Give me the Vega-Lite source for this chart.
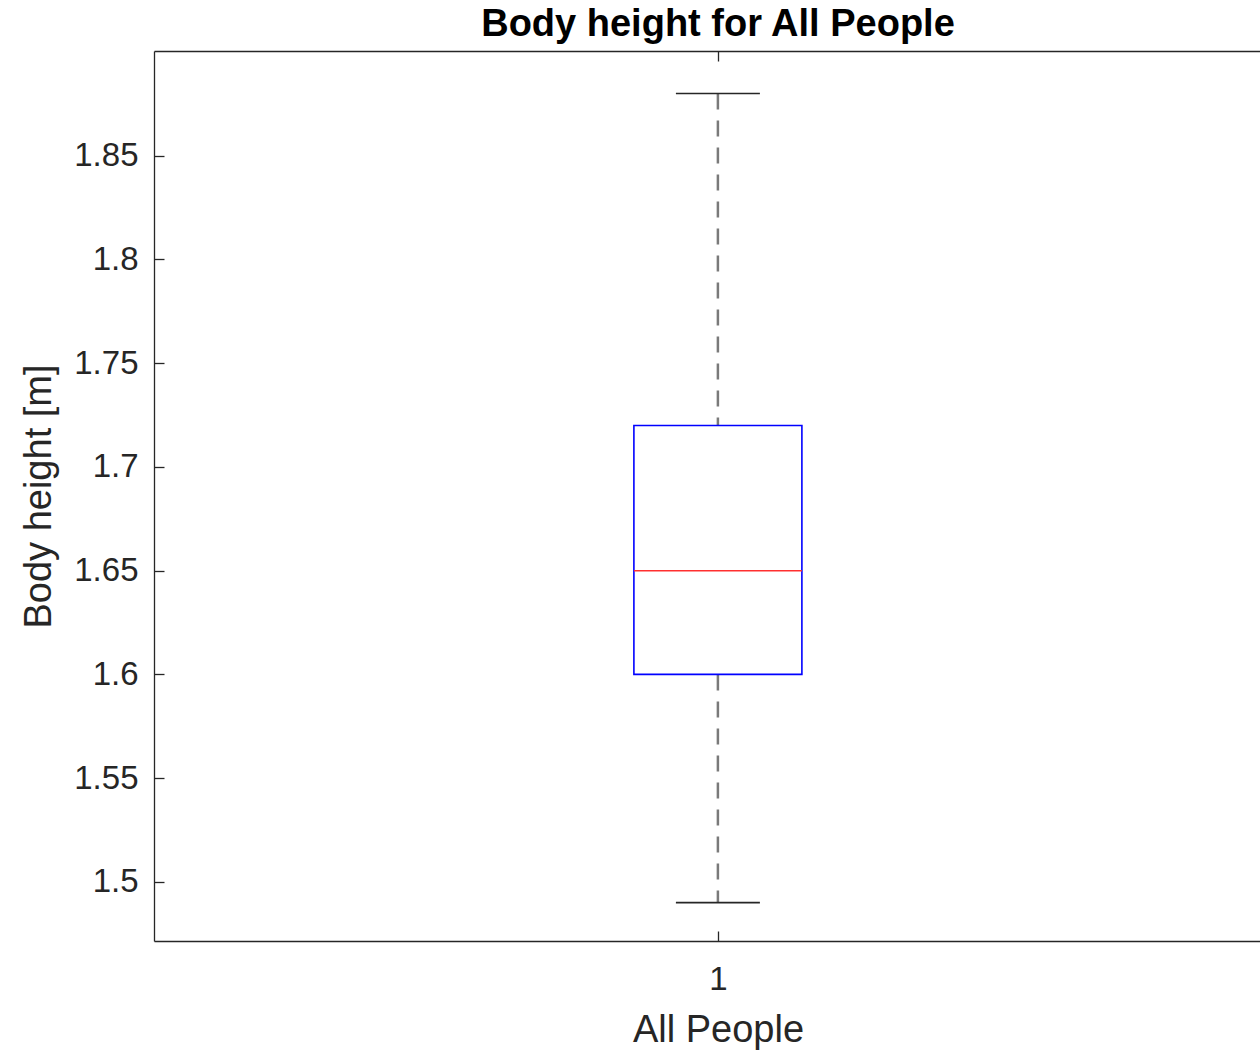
{
  "$schema": "https://vega.github.io/schema/vega-lite/v6.json",
  "autosize": {"type": "none"},
  "padding": {"left": 154, "top": 51, "right": 0, "bottom": 111},
  "width": 1106,
  "height": 890,
  "background": "white",
  "config": {
    "view": {"stroke": null},
    "font": "Liberation Sans",
    "axis": {"grid": false, "domainColor": "#262626", "tickColor": "#262626", "labelColor": "#262626", "titleColor": "#262626", "labelFont": "Liberation Sans", "titleFont": "Liberation Sans", "labelFontSize": 33, "titleFontSize": 38, "titleFontWeight": "normal", "domainWidth": 1.3, "tickWidth": 1.3}
  },
  "title": {"text": "Body height for All People", "font": "Liberation Sans", "fontSize": 38, "fontWeight": "bold", "color": "#000000", "anchor": "middle", "dx": 11, "offset": 6},
  "data": {"values": [{"group": 1, "lower": 1.49, "q1": 1.6, "median": 1.65, "q3": 1.72, "upper": 1.88}]},
  "resolve": {"axis": {"x": "independent", "y": "independent"}},
  "layer": [
    {
      "mark": {"type": "rule", "color": "#7a7a7a", "strokeWidth": 2.5, "strokeDash": [16, 11]},
      "encoding": {
        "x": {"field": "group", "type": "quantitative", "scale": {"domain": [0.5, 1.4805], "nice": false, "zero": false},
          "axis": {"orient": "top", "values": [1], "labels": false, "title": null, "tickSize": -10}},
        "y": {"field": "upper", "type": "quantitative", "scale": {"domain": [1.4715, 1.9005], "nice": false, "zero": false},
          "axis": {"orient": "left", "values": [1.5, 1.55, 1.6, 1.65, 1.7, 1.75, 1.8, 1.85], "format": ".3~f", "tickSize": -10, "labelPadding": 26,
            "title": "Body height [m]", "titleX": -104, "titleY": 445, "titleBaseline": "alphabetic", "titleAngle": 270}},
        "y2": {"field": "q3"}
      }
    },
    {
      "mark": {"type": "rule", "color": "#7a7a7a", "strokeWidth": 2.5, "strokeDash": [16, 11]},
      "encoding": {
        "x": {"field": "group", "type": "quantitative", "axis": null},
        "y": {"field": "q1", "type": "quantitative", "axis": null},
        "y2": {"field": "lower"}
      }
    },
    {
      "mark": {"type": "bar", "size": 168, "fill": "white", "fillOpacity": 0, "stroke": "#0000ff", "strokeWidth": 1.6},
      "encoding": {
        "x": {"field": "group", "type": "quantitative",
          "axis": {"orient": "bottom", "values": [1], "format": "d", "tickSize": -10, "labelPadding": 32,
            "title": "All People", "titleX": 564, "titleY": 100, "titleBaseline": "alphabetic"}},
        "y": {"field": "q3", "type": "quantitative", "axis": null},
        "y2": {"field": "q1"}
      }
    },
    {
      "mark": {"type": "tick", "orient": "horizontal", "size": 168, "thickness": 1.6, "color": "#ff3030", "opacity": 1},
      "encoding": {
        "x": {"field": "group", "type": "quantitative", "axis": null},
        "y": {"field": "median", "type": "quantitative", "axis": null}
      }
    },
    {
      "mark": {"type": "tick", "orient": "horizontal", "size": 84, "thickness": 1.6, "color": "#262626", "opacity": 1},
      "encoding": {
        "x": {"field": "group", "type": "quantitative", "axis": null},
        "y": {"field": "upper", "type": "quantitative", "axis": null}
      }
    },
    {
      "mark": {"type": "tick", "orient": "horizontal", "size": 84, "thickness": 1.6, "color": "#262626", "opacity": 1},
      "encoding": {
        "x": {"field": "group", "type": "quantitative", "axis": null},
        "y": {"field": "lower", "type": "quantitative", "axis": null}
      }
    }
  ]
}
